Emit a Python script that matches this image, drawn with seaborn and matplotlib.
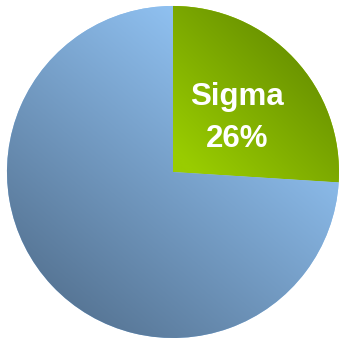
import numpy as np
import matplotlib
matplotlib.use("Agg")
import matplotlib.pyplot as plt
import seaborn as sns
from matplotlib.colors import LinearSegmentedColormap

# Share of the whole, clockwise from 12 o'clock
labels = ["Sigma", "Other"]
shares = [26, 74]
show_label = [True, False]

# Gradient end colours per slice: (light, dark)
slice_gradients = [("#99cc00", "#6a9300"), ("#8fc0f0", "#587797")]
# Gradient axis angle (degrees) and the projection range mapped light->dark
gradient_ranges = [(45, 0.1, 1.05), (50, 0.75, -1.0)]

sns.set_theme(style="white")
plt.rcParams["font.family"] = ["Liberation Sans", "DejaVu Sans"]

fig = plt.figure(figsize=(3.39, 3.39), dpi=100)
ax = fig.add_axes([0, 0, 1, 1])

wedges, _ = ax.pie(
    shares,
    startangle=90,
    counterclock=False,
    radius=1.0,
    colors=[g[0] for g in slice_gradients],
    wedgeprops=dict(linewidth=0),
)

# Linear gradient fill for each wedge, clipped to the wedge outline
n = 400
xs = np.linspace(-1.05, 1.05, n)
ys = np.linspace(-1.05, 1.05, n)
X, Y = np.meshgrid(xs, ys)
for wedge, (light, dark), (ang, t_light, t_dark) in zip(wedges, slice_gradients, gradient_ranges):
    a = np.deg2rad(ang)
    proj = X * np.cos(a) + Y * np.sin(a)
    t = np.clip((proj - t_light) / (t_dark - t_light), 0, 1)
    cmap = LinearSegmentedColormap.from_list("g", [light, dark])
    im = ax.imshow(t, extent=(-1.05, 1.05, -1.05, 1.05), origin="lower",
                   cmap=cmap, vmin=0, vmax=1, interpolation="bilinear", zorder=2)
    im.set_clip_path(wedge)

# Slice labels, placed a little below the slice bisector
for wedge, label, share, show in zip(wedges, labels, shares, show_label):
    if not show:
        continue
    mid = np.deg2rad((wedge.theta1 + wedge.theta2) / 2 - 3.0)
    r = 0.505
    ax.text(r * np.cos(mid), r * np.sin(mid), f"{label}\n{share}%",
            ha="center", va="center", color="white", fontsize=22.5,
            fontweight="bold", linespacing=1.55, zorder=5)

ax.set_xlim(-1.042, 1.0)
ax.set_ylim(-1.006, 1.036)
ax.set_aspect("equal")
ax.axis("off")

fig.savefig("out.png", dpi=100, facecolor="white")
